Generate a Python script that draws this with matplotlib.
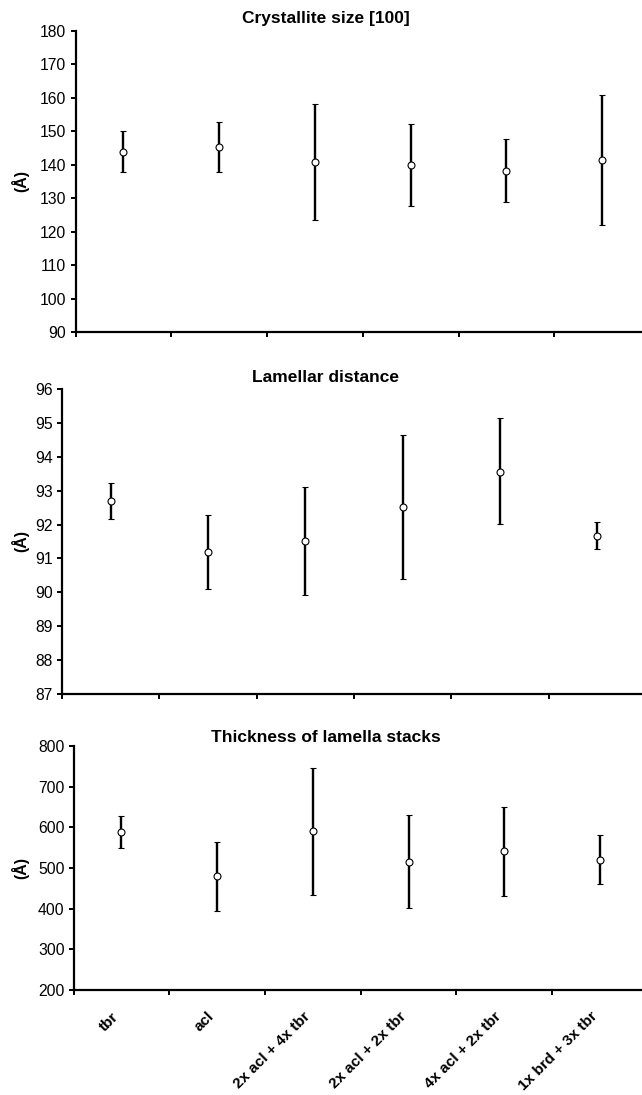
import matplotlib
matplotlib.use("Agg")
import matplotlib.pyplot as plt
import numpy as np

plt.rcParams['font.family'] = ['Liberation Sans', 'DejaVu Sans']

samples = ["tbr", "acl", "2x acl + 4x tbr", "2x acl + 2x tbr",
           "4x acl + 2x tbr", "1x brd + 3x tbr"]

# crystallite size [100] (Å): mean, top and bottom of error bar
cryst_mean = [143.8, 145.3, 140.8, 139.9, 138.2, 141.5]
cryst_hi = [150.0, 152.8, 158.2, 152.3, 147.7, 161.0]
cryst_lo = [137.7, 137.9, 123.5, 127.6, 128.8, 122.1]

# lamellar distance (Å)
lam_mean = [92.70, 91.18, 91.51, 92.51, 93.56, 91.67]
lam_hi = [93.22, 92.28, 93.12, 94.63, 95.14, 92.08]
lam_lo = [92.15, 90.09, 89.93, 90.40, 92.01, 91.28]

# thickness of lamella stacks (Å)
thick_mean = [588, 480, 591, 515, 541, 520]
thick_hi = [628, 563, 747, 630, 651, 582]
thick_lo = [548, 395, 434, 401, 432, 460]

W, H = 642, 1095
fig = plt.figure(figsize=(W / 100, H / 100), dpi=100)


def px_axes(left, right, top, bottom):
    return fig.add_axes([left / W, 1 - bottom / H, (right - left) / W, (bottom - top) / H])


def draw_panel(ax, mean, hi, lo, ylim, step, title, title_y, show_labels=False):
    mean = np.array(mean, dtype=float)
    yerr = [mean - np.array(lo), np.array(hi) - mean]
    x = np.arange(len(mean)) + 0.5
    ax.errorbar(x, mean, yerr=yerr, fmt='o', color='black', mfc='white', mec='black',
                ms=5, mew=0.8, elinewidth=1.7, capsize=2.2, capthick=1.7, ecolor='black')
    ax.set_xlim(0, 6)
    ax.set_ylim(*ylim)
    ax.set_yticks(np.arange(ylim[0], ylim[1] + step / 2, step))
    ax.set_xticks(np.arange(0, 7))
    ax.set_xticklabels([])
    for s in ['top', 'right']:
        ax.spines[s].set_visible(False)
    for s in ['left', 'bottom']:
        ax.spines[s].set_linewidth(1.6)
    ax.tick_params(axis='both', direction='out', length=3.5, width=1.4, labelsize=11.3)
    ax.tick_params(axis='y', pad=3)
    if show_labels:
        ax.set_xticks(x, minor=True)
        ax.set_xticklabels(samples, minor=True, rotation=45, ha='right',
                           fontweight='bold', fontsize=11)
        ax.tick_params(axis='x', which='minor', length=0, pad=14)
    fig.text(326 / W, 1 - title_y / H, title, ha='center', va='center',
             fontsize=12.5, fontweight='bold')
    pos = ax.get_position()
    fig.text(20 / W, pos.y0 + pos.height / 2, "(Å)", rotation=90, ha='center',
             va='center', fontsize=11.5, fontweight='bold')


ax1 = px_axes(75.5, 650, 31, 332)
draw_panel(ax1, cryst_mean, cryst_hi, cryst_lo, (90, 180), 10,
           "Crystallite size [100]", 19)

ax2 = px_axes(62, 646, 389, 694)
draw_panel(ax2, lam_mean, lam_hi, lam_lo, (87, 96), 1,
           "Lamellar distance", 377)

ax3 = px_axes(73.5, 648, 746, 990)
draw_panel(ax3, thick_mean, thick_hi, thick_lo, (200, 800), 100,
           "Thickness of lamella stacks", 737, show_labels=True)

fig.savefig("out.png", dpi=100)
